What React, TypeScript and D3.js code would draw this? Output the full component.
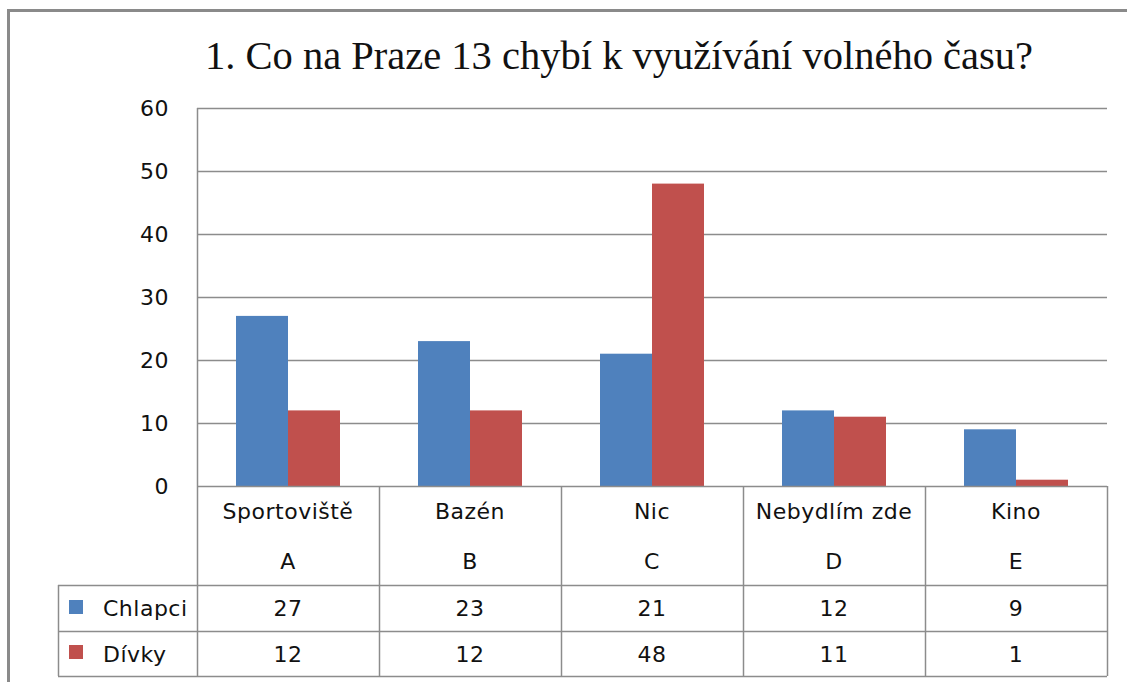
import React, { useEffect, useRef } from "react";
import * as d3 from "d3";

const categories = ["Sportoviště", "Bazén", "Nic", "Nebydlím zde", "Kino"];
const letters = ["A", "B", "C", "D", "E"];
const seriesNames = ["Chlapci", "Dívky"];
const chlapci = [27, 23, 21, 12, 9];
const divky = [12, 12, 48, 11, 1];
const yTicks = [0, 10, 20, 30, 40, 50, 60];
const title = "1. Co na Praze 13 chybí k využívání volného času?";

function App() {
  const svgRef = useRef(null);

  useEffect(() => {
    const width = 1127;
    const height = 682;
    const left = 197;
    const right = 1107;
    const top = 108;
    const bottom = 486;
    const row1 = 585;
    const row2 = 631;
    const tableBottom = 676;
    const legendLeft = 58;
    const colors = ["#4F81BD", "#C0504D"];
    const gridColor = "#8c8c8c";
    const font = "'DejaVu Sans', sans-serif";

    const svg = d3.select(svgRef.current).attr("width", width).attr("height", height);
    svg.selectAll("*").remove();

    svg.append("rect").attr("width", width).attr("height", height).attr("fill", "#fff");

    // outer frame (top + left only visible)
    svg.append("path")
      .attr("d", `M8.5,${height} V10.5 H${width}`)
      .attr("fill", "none")
      .attr("stroke", "#8a8a8a")
      .attr("stroke-width", 3);

    // title
    svg.append("text")
      .attr("x", 205)
      .attr("y", 69)
      .attr("font-family", "'Liberation Serif', 'Times New Roman', serif")
      .attr("font-size", 39)
      .attr("textLength", 828)
      .attr("lengthAdjust", "spacingAndGlyphs")
      .attr("fill", "#111")
      .text(title);

    const x = d3.scaleBand().domain(letters).range([left, right]).padding(0);
    const xs = d3.scaleBand().domain(seriesNames).range([0, x.bandwidth()]).paddingInner(0).paddingOuter(0.75);
    const y = d3.scaleLinear().domain([0, 60]).range([bottom, top]);

    // gridlines
    svg.append("g")
      .selectAll("line")
      .data(yTicks.filter((d) => d > 0))
      .join("line")
      .attr("x1", left)
      .attr("x2", right)
      .attr("y1", (d) => Math.round(y(d)) + 0.5)
      .attr("y2", (d) => Math.round(y(d)) + 0.5)
      .attr("stroke", gridColor)
      .attr("stroke-width", 1.5);

    const txt = (sel) =>
      sel.attr("font-family", font).attr("font-size", 22).attr("letter-spacing", 0.5).attr("fill", "#111");

    // y tick labels
    svg.append("g")
      .selectAll("text")
      .data(yTicks)
      .join("text")
      .call(txt)
      .attr("x", 169)
      .attr("y", (d) => y(d) + 8)
      .attr("text-anchor", "end")
      .text((d) => d);

    // bars
    const series = [chlapci, divky];
    series.forEach((vals, si) => {
      svg.append("g")
        .selectAll("rect")
        .data(vals)
        .join("rect")
        .attr("x", (d, i) => x(letters[i]) + xs(seriesNames[si]))
        .attr("width", xs.bandwidth())
        .attr("y", (d) => y(d))
        .attr("height", (d) => y(0) - y(d))
        .attr("fill", colors[si]);
    });

    // table lines
    const g = svg.append("g").attr("stroke", gridColor).attr("stroke-width", 1.5).attr("fill", "none");
    g.append("line").attr("x1", left).attr("x2", right).attr("y1", bottom + 0.5).attr("y2", bottom + 0.5);
    [row1, row2, tableBottom].forEach((yy) => {
      g.append("line").attr("x1", legendLeft).attr("x2", right).attr("y1", yy + 0.5).attr("y2", yy + 0.5);
    });
    g.append("line").attr("x1", left + 0.5).attr("x2", left + 0.5).attr("y1", top).attr("y2", tableBottom);
    g.append("line").attr("x1", legendLeft + 0.5).attr("x2", legendLeft + 0.5).attr("y1", row1).attr("y2", tableBottom);
    letters.forEach((l) => {
      const xx = Math.round(x(l) + x.bandwidth()) + 0.5;
      g.append("line").attr("x1", xx).attr("x2", xx).attr("y1", bottom).attr("y2", tableBottom);
    });

    // header: category + letter
    svg.append("g").selectAll("text").data(categories).join("text")
      .call(txt)
      .attr("x", (d, i) => x(letters[i]) + x.bandwidth() / 2)
      .attr("y", 519)
      .attr("text-anchor", "middle")
      .text((d) => d);
    svg.append("g").selectAll("text").data(letters).join("text")
      .call(txt)
      .attr("x", (d) => x(d) + x.bandwidth() / 2)
      .attr("y", 569)
      .attr("text-anchor", "middle")
      .text((d) => d);

    // data rows with legend keys
    const rowBaselines = [616, 662];
    const keyTops = [600, 645];
    series.forEach((vals, si) => {
      svg.append("rect")
        .attr("x", 69)
        .attr("y", keyTops[si])
        .attr("width", 14)
        .attr("height", 14)
        .attr("fill", colors[si]);
      svg.append("text")
        .call(txt)
        .attr("x", 103)
        .attr("y", rowBaselines[si])
        .text(seriesNames[si]);
      svg.append("g").selectAll("text").data(vals).join("text")
        .call(txt)
        .attr("x", (d, i) => x(letters[i]) + x.bandwidth() / 2)
        .attr("y", rowBaselines[si])
        .attr("text-anchor", "middle")
        .text((d) => d);
    });
  }, []);

  return <svg ref={svgRef} style={{ position: "absolute", left: 0, top: 0 }}></svg>;
}

export default App;
